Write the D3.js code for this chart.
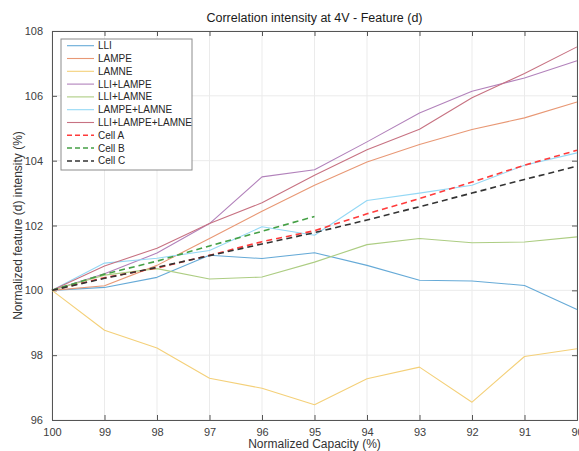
<!DOCTYPE html>
<html>
<head>
<meta charset="utf-8">
<script src="https://cdn.jsdelivr.net/npm/d3@7"></script>
<style>
  html, body { margin: 0; padding: 0; background: #fff; }
  svg { display: block; font-family: "Liberation Sans", Arial, Helvetica, sans-serif; }
</style>
</head>
<body>
<svg id="chart" width="579" height="451"></svg>
<script>
// ---- Data ----
const capacity = [100, 99, 98, 97, 96, 95, 94, 93, 92, 91, 90];
const xTicks = [100, 99, 98, 97, 96, 95, 94, 93, 92, 91, 90];
const yTicks = [96, 98, 100, 102, 104, 106, 108];

const LLI          = [100, 100.09, 100.40, 101.08, 100.98, 101.16, 100.77, 100.31, 100.29, 100.15, 99.41];
const LAMPE        = [100, 100.14, 100.77, 101.60, 102.44, 103.24, 103.96, 104.50, 104.96, 105.32, 105.81];
const LAMNE        = [100, 98.77, 98.22, 97.29, 96.98, 96.47, 97.27, 97.63, 96.55, 97.96, 98.20];
const LLI_LAMPE    = [100, 100.51, 101.15, 102.06, 103.50, 103.72, 104.58, 105.47, 106.14, 106.55, 107.08];
const LLI_LAMNE    = [100, 100.47, 100.67, 100.35, 100.41, 100.87, 101.41, 101.60, 101.47, 101.49, 101.65];
const LAMPE_LAMNE  = [100, 100.84, 100.99, 101.23, 101.96, 101.70, 102.77, 103.00, 103.24, 103.86, 104.24];
const LLI_LAMPE_LAMNE = [100, 100.75, 101.30, 102.06, 102.70, 103.55, 104.34, 104.97, 105.94, 106.69, 107.51];
const cellA        = [100, 100.39, 100.69, 101.08, 101.50, 101.84, 102.36, 102.83, 103.34, 103.86, 104.32];
const cellB        = [100, 100.50, 100.90, 101.37, 101.82, 102.28];
const cellC        = [100, 100.37, 100.71, 101.07, 101.43, 101.78, 102.17, 102.58, 103.00, 103.42, 103.83];

const seriesNames  = ["LLI", "LAMPE", "LAMNE", "LLI+LAMPE", "LLI+LAMNE", "LAMPE+LAMNE", "LLI+LAMPE+LAMNE", "Cell A", "Cell B", "Cell C"];
const seriesValues = [LLI, LAMPE, LAMNE, LLI_LAMPE, LLI_LAMNE, LAMPE_LAMNE, LLI_LAMPE_LAMNE, cellA, cellB, cellC];
const seriesColors = ["#66AAD7", "#E89875", "#F4D079", "#B282BB", "#ADCD83", "#94D8F5", "#C77282", "#FF3B3B", "#45A045", "#333333"];
const seriesDashed = [false, false, false, false, false, false, false, true, true, true];

// ---- Layout ----
const svg = d3.select("#chart");
const L = 52, R = 577, T = 31, B = 420;

const x = d3.scaleLinear().domain([100, 90]).range([L, R]);
const y = d3.scaleLinear().domain([96, 108]).range([B, T]);

// grid
const g = svg.append("g");
g.selectAll("line.gx").data(xTicks).join("line")
  .attr("x1", d => x(d)).attr("x2", d => x(d)).attr("y1", T).attr("y2", B)
  .attr("stroke", "#ebebeb").attr("stroke-width", 1);
g.selectAll("line.gy").data(yTicks).join("line")
  .attr("x1", L).attr("x2", R).attr("y1", d => y(d)).attr("y2", d => y(d))
  .attr("stroke", "#ebebeb").attr("stroke-width", 1);

// axes (ticks inward)
const xAxis = svg.append("g").attr("transform", `translate(0,${B})`)
  .call(d3.axisBottom(x).tickValues(xTicks).tickSize(-5).tickPadding(8).tickFormat(d3.format("d")));
const xAxisTop = svg.append("g").attr("transform", `translate(0,${T})`)
  .call(d3.axisTop(x).tickValues(xTicks).tickSize(-5).tickFormat(""));
const yAxis = svg.append("g").attr("transform", `translate(${L},0)`)
  .call(d3.axisLeft(y).tickValues(yTicks).tickSize(-5).tickPadding(9).tickFormat(d3.format("d")));
const yAxisRight = svg.append("g").attr("transform", `translate(${R},0)`)
  .call(d3.axisRight(y).tickValues(yTicks).tickSize(-5).tickFormat(""));

[xAxis, xAxisTop, yAxis, yAxisRight].forEach(a => {
  a.selectAll("path").attr("stroke", "#555").attr("stroke-width", 1);
  a.selectAll("line").attr("stroke", "#555");
  a.selectAll("text").attr("fill", "#404040").style("font-size", "11px")
   .style("font-family", "'Liberation Sans', Arial, sans-serif");
});

// lines
const line = d3.line().x((d, i) => x(capacity[i])).y(d => y(d));
const plot = svg.append("g");
seriesValues.forEach((vals, k) => {
  plot.append("path")
    .datum(vals)
    .attr("d", line)
    .attr("fill", "none")
    .attr("stroke", seriesColors[k])
    .attr("stroke-width", seriesDashed[k] ? 1.6 : 1.1)
    .attr("stroke-dasharray", seriesDashed[k] ? "6,4" : null)
    .attr("stroke-linejoin", "round");
});

// title & labels
svg.append("text").attr("x", (L + R) / 2).attr("y", 22).attr("text-anchor", "middle")
  .style("font-size", "12.5px").attr("fill", "#1a1a1a").text("Correlation intensity at 4V - Feature (d)");
svg.append("text").attr("x", (L + R) / 2).attr("y", 448).attr("text-anchor", "middle")
  .style("font-size", "12px").attr("fill", "#333").text("Normalized Capacity (%)");
svg.append("text").attr("transform", `translate(22,${(T + B) / 2}) rotate(-90)`)
  .attr("text-anchor", "middle").style("font-size", "12px").attr("fill", "#333")
  .text("Normalized feature (d) intensity (%)");

// legend
const lg = svg.append("g");
const lx = 61, ly = 39, lw = 131, lh = 131, step = 12.8;
lg.append("rect").attr("x", lx).attr("y", ly).attr("width", lw).attr("height", lh)
  .attr("fill", "#fff").attr("stroke", "#8c8c8c").attr("stroke-width", 1);
seriesNames.forEach((name, k) => {
  const yy = ly + 6.7 + k * step;
  lg.append("line").attr("x1", lx + 6).attr("x2", lx + 33).attr("y1", yy).attr("y2", yy)
    .attr("stroke", seriesColors[k]).attr("stroke-width", seriesDashed[k] ? 1.5 : 1.1)
    .attr("stroke-dasharray", seriesDashed[k] ? "5,3" : null);
  lg.append("text").attr("x", lx + 37).attr("y", yy + 3.5)
    .style("font-size", "10px").attr("fill", "#262626").text(name);
});
</script>
</body>
</html>
